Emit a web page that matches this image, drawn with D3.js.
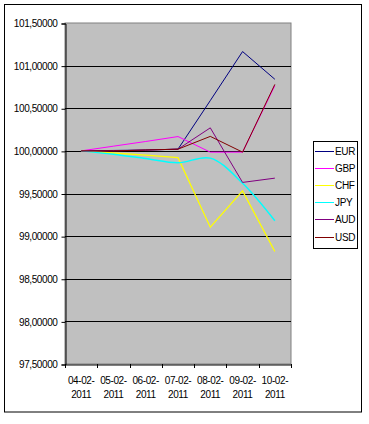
<!DOCTYPE html>
<html><head><meta charset="utf-8">
<script src="https://cdn.jsdelivr.net/npm/d3@7"></script>
<style>body{margin:0;background:#fff}svg{display:block;font-family:"Liberation Sans",Arial,sans-serif}</style>
</head><body><svg id="c" width="369" height="424"></svg>
<script>
const categories = ["04-02-2011","05-02-2011","06-02-2011","07-02-2011","08-02-2011","09-02-2011","10-02-2011"];
const seriesNames = ["EUR","GBP","CHF","JPY","AUD","USD"];
const EUR = [100, 100.005, 100.01, 100.02, 100.59, 101.165, 100.84];
const GBP = [100, 100.055, 100.11, 100.168, 99.985, 99.985, 100.765];
const CHF = [100, 99.975, 99.95, 99.92, 99.105, 99.53, 98.82];
const JPY = [100, 99.96, 99.91, 99.86, 99.915, 99.62, 99.18];
const AUD = [100, 100.0, 100.01, 100.02, 100.27, 99.63, 99.68];
const USD = [100, 100.0, 100.01, 100.02, 100.17, 99.985, 100.78];
const yTicks = [97.5, 98, 98.5, 99, 99.5, 100, 100.5, 101, 101.5];
const colors = ["#000080","#ff00ff","#ffff00","#00ffff","#800080","#800000"];
const widths = [1, 1, 1.3, 1.5, 1, 1];
const values = [EUR, GBP, CHF, JPY, AUD, USD];

const svg = d3.select("#c");
const L = 65, R = 291, T = 23, B = 364;
svg.append("rect").attr("x",4.5).attr("y",4.5).attr("width",357).attr("height",407.5)
  .attr("fill","#fff").attr("stroke","#000").attr("stroke-width",1);

const x = d3.scaleBand().domain(categories).range([L, R]);
const y = d3.scaleLinear().domain([97.5, 101.5]).range([B, T]);

svg.append("rect").attr("x",L).attr("y",T).attr("width",R-L).attr("height",B-T)
  .attr("fill","#c0c0c0").attr("stroke","#808080").attr("stroke-width",1);

svg.append("g").selectAll("line").data(yTicks.slice(1, -1)).join("line")
  .attr("x1",L).attr("x2",R).attr("y1",d=>Math.round(y(d))+0.5).attr("y2",d=>Math.round(y(d))+0.5)
  .attr("stroke","#000").attr("stroke-width",1);

const fmt = d => d3.format(".5f")(d).replace(".", ",");
const yAxis = d3.axisLeft(y).tickValues(yTicks).tickFormat(fmt).tickSize(4).tickPadding(4);
const gy = svg.append("g").attr("transform",`translate(${L+0.5},0.5)`).call(yAxis);
gy.selectAll("text").attr("font-size","10px").attr("fill","#000").style("letter-spacing","-0.4px");
gy.select(".domain").attr("stroke","#000");

const xAxis = d3.axisBottom(x).tickSize(0).tickFormat("");
const gx = svg.append("g").attr("transform",`translate(0,${B+0.5})`).call(xAxis);
gx.select(".domain").attr("stroke","#000");
svg.append("g").selectAll("line").data(d3.range(categories.length+1)).join("line")
  .attr("x1",i=>Math.round(L + i*x.step())+0.5).attr("x2",i=>Math.round(L + i*x.step())+0.5)
  .attr("y1",B).attr("y2",B+4).attr("stroke","#000");
const xl = svg.append("g").selectAll("text").data(categories).join("text")
  .attr("x",d=>x(d)+x.bandwidth()/2).attr("y",384)
  .attr("text-anchor","middle").attr("font-size","10px").style("letter-spacing","-0.4px");
xl.append("tspan").attr("x",d=>x(d)+x.bandwidth()/2).text(d=>d.slice(0,6));
xl.append("tspan").attr("x",d=>x(d)+x.bandwidth()/2).attr("dy",14).text(d=>d.slice(6));

const cx = d => x(d) + x.bandwidth()/2;
values.forEach((vals, i) => {
  const line = d3.line().x((v,j)=>cx(categories[j])).y(v=>y(v))
    .curve(seriesNames[i]==="JPY" ? d3.curveCatmullRom : d3.curveLinear);
  svg.append("path").datum(vals).attr("d",line).attr("fill","none")
    .attr("stroke",colors[i]).attr("stroke-width",widths[i]);
});

const lg = svg.append("g");
lg.append("rect").attr("x",313.5).attr("y",141.5).attr("width",44).attr("height",107)
  .attr("fill","#fff").attr("stroke","#000");
seriesNames.forEach((n,i)=>{
  const yy = 150.5 + i*17.2;
  lg.append("line").attr("x1",315).attr("x2",334).attr("y1",Math.round(yy)+0.5).attr("y2",Math.round(yy)+0.5)
    .attr("stroke",colors[i]).attr("stroke-width",1);
  lg.append("text").attr("x",335).attr("y",yy+4).attr("font-size","10px").style("letter-spacing","-0.3px").text(n);
});
</script></body></html>
